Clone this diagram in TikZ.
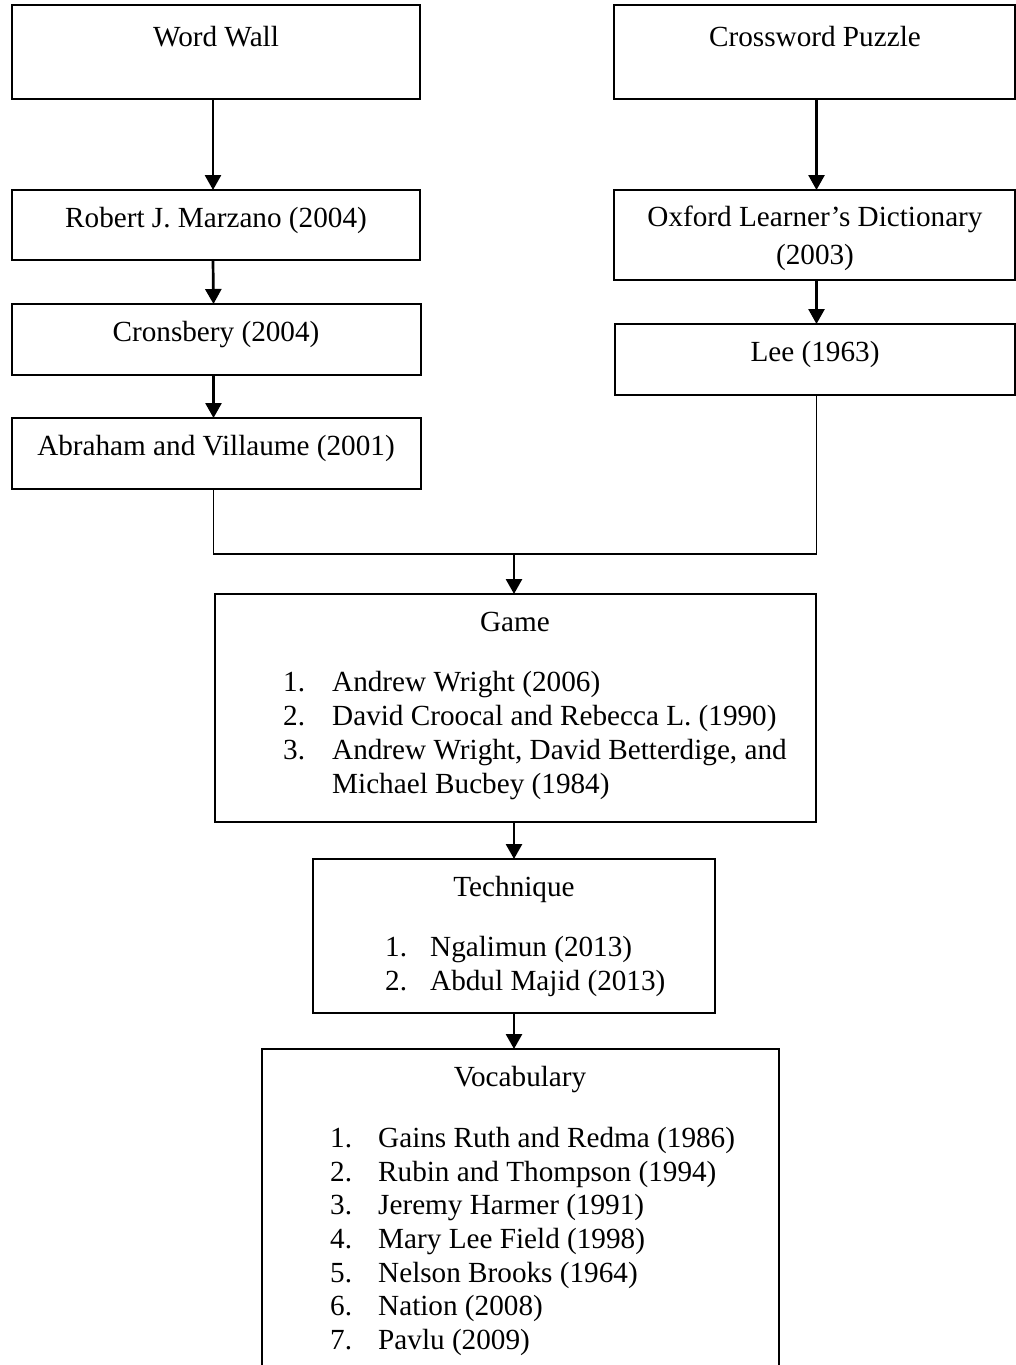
\documentclass[tikz,border=0pt]{standalone}
\usepackage{fontspec}
\setmainfont{Liberation Serif}
\usetikzlibrary{arrows.meta}
\begin{document}
\begin{tikzpicture}[x=1pt,y=-1pt,
  box/.style 2 args={draw=black, line width=1.2pt, inner sep=0pt, outer sep=0pt,
    anchor=north west, minimum width=#1pt, minimum height=#2pt},
  txt/.style={font=\fontsize{29.2}{34}\selectfont, inner sep=0pt, anchor=base},
  lst/.style={txt, anchor=base west},
  arr/.style={line width=2.7pt, -{Triangle[length=15pt,width=16pt]}},
  conn/.style={line width=1.2pt}]
\useasboundingbox (0,0) rectangle (1016,1365);
\clip (0,0) rectangle (1016,1365);
\fill[white] (0,0) rectangle (1016,1365);

% boxes
\node[box={408}{94}] (ww) at (12,5) {};
\node[box={401}{94}] (cp) at (614,5) {};
\node[box={408}{70}] (rm) at (12,190) {};
\node[box={409}{71}] (cr) at (12,304) {};
\node[box={409}{71}] (ab) at (12,418) {};
\node[box={401}{90}] (ox) at (614,190) {};
\node[box={400}{71}] (le) at (615,324) {};
\node[box={601}{228}] (gm) at (215,594) {};
\node[box={402}{154}] (te) at (313,859) {};
\node[box={517}{400}] (vo) at (262,1049) {};

% texts
\node[txt] (wwt) at (216,46) {Word Wall};
\node[txt] (cpt) at (815,46) {Crossword Puzzle};
\node[txt] (rmt) at (216,227) {Robert J. Marzano (2004)};
\node[txt] (crt) at (216,341) {Cronsbery (2004)};
\node[txt] (abt) at (216,455) {Abraham and Villaume (2001)};
\node[txt] (oxt1) at (815,226) {Oxford Learner’s Dictionary};
\node[txt] (oxt2) at (815,264) {(2003)};
\node[txt] (let) at (815,361) {Lee (1963)};

\node[txt] (gmt) at (515,631) {Game};
\node[lst] (g1n) at (283,691) {1.};
\node[lst] (g1) at (332,691) {Andrew Wright (2006)};
\node[lst] (g2n) at (283,725) {2.};
\node[lst] (g2) at (332,725) {David Croocal and Rebecca L. (1990)};
\node[lst] (g3n) at (283,759) {3.};
\node[lst] (g3) at (332,759) {Andrew Wright, David Betterdige, and};
\node[lst] (g3b) at (332,793) {Michael Bucbey (1984)};

\node[txt] (tet) at (514,896) {Technique};
\node[lst] (t1n) at (385,956) {1.};
\node[lst] (t1) at (430,956) {Ngalimun (2013)};
\node[lst] (t2n) at (385,990) {2.};
\node[lst] (t2) at (430,990) {Abdul Majid (2013)};

\node[txt] (vot) at (520,1086) {Vocabulary};
\node[lst] (v1n) at (330,1147) {1.};
\node[lst] (v1) at (378,1147) {Gains Ruth and Redma (1986)};
\node[lst] (v2n) at (330,1181) {2.};
\node[lst] (v2) at (378,1181) {Rubin and Thompson (1994)};
\node[lst] (v3n) at (330,1214) {3.};
\node[lst] (v3) at (378,1214) {Jeremy Harmer (1991)};
\node[lst] (v4n) at (330,1248) {4.};
\node[lst] (v4) at (378,1248) {Mary Lee Field (1998)};
\node[lst] (v5n) at (330,1282) {5.};
\node[lst] (v5) at (378,1282) {Nelson Brooks (1964)};
\node[lst] (v6n) at (330,1315) {6.};
\node[lst] (v6) at (378,1315) {Nation (2008)};
\node[lst] (v7n) at (330,1349) {7.};
\node[lst] (v7) at (378,1349) {Pavlu (2009)};

% connectors
\draw[arr] ([xshift=-3pt]ww.south) -- ([xshift=-3pt]rm.north);
\draw[arr] ([xshift=-3pt]rm.south) -- ([xshift=-3pt]cr.north);
\draw[arr] ([xshift=-3pt]cr.south) -- ([xshift=-3pt]ab.north);
\draw[arr] ([xshift=2pt]cp.south) -- ([xshift=2pt]ox.north);
\draw[arr] ([xshift=2pt]ox.south) -- ([xshift=1.5pt]le.north);
\coordinate (j) at (514,554);
\draw[conn] ([xshift=-3pt]ab.south) |- (j) -| ([xshift=1.5pt]le.south);
\draw[arr] (j) -- (j |- gm.north);
\draw[arr] (te.north |- gm.south) -- (te.north);
\draw[arr] (te.south) -- (te.south |- vo.north);
\end{tikzpicture}
\end{document}
